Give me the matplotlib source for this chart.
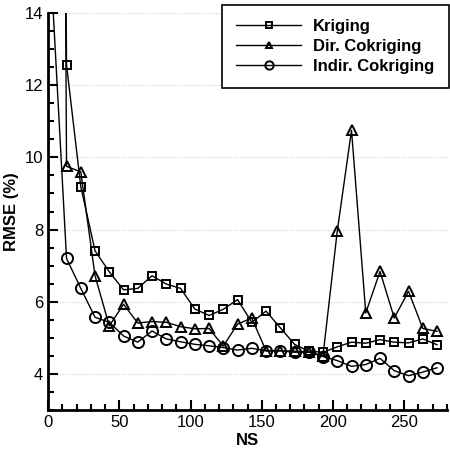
import matplotlib
matplotlib.use('Agg')
import matplotlib.pyplot as plt
from matplotlib.ticker import MultipleLocator

plt.rcParams['font.family'] = ['Liberation Sans', 'DejaVu Sans']

ns = [3, 13, 23, 33, 43, 53, 63, 73, 83, 93, 103, 113, 123, 133, 143,
      153, 163, 173, 183, 193, 203, 213, 223, 233, 243, 253, 263, 273]
kriging = [60.0, 12.56, 9.19, 7.41, 6.83, 6.33, 6.37, 6.72, 6.49, 6.37, 5.80, 5.62, 5.79, 6.06, 5.43,
           5.74, 5.28, 4.82, 4.63, 4.60, 4.75, 4.88, 4.85, 4.95, 4.88, 4.86, 4.97, 4.81]
dir_cok = [80.0, 9.75, 9.60, 6.72, 5.33, 5.93, 5.41, 5.45, 5.43, 5.31, 5.25, 5.26, 4.77, 5.38, 5.55,
           4.64, 4.64, 4.63, 4.60, 4.51, 7.96, 10.75, 5.69, 6.84, 5.55, 6.29, 5.26, 5.18]
indir_cok = [14.5, 7.20, 6.37, 5.57, 5.43, 5.05, 4.88, 5.19, 4.97, 4.89, 4.82, 4.78, 4.73, 4.66, 4.71,
             4.64, 4.64, 4.60, 4.61, 4.48, 4.37, 4.21, 4.26, 4.43, 4.09, 3.95, 4.05, 4.17]

fig = plt.figure(figsize=(4.5, 4.53), dpi=100)
ax = fig.add_axes([0.1067, 0.0949, 0.8866, 0.8764])

ax.plot(ns, kriging, 'k-', lw=1, marker='s', ms=5.5, mfc='none', mec='k', mew=1.4, label='Kriging')
ax.plot(ns, dir_cok, 'k-', lw=1, marker='^', ms=6.5, mfc='none', mec='k', mew=1.4, label='Dir. Cokriging')
ax.plot(ns, indir_cok, 'k-', lw=1, marker='o', ms=8, mfc='none', mec='k', mew=1.4, label='Indir. Cokriging')

ax.set_xlim(0, 280)
ax.set_ylim(3, 14)
ax.xaxis.set_major_locator(MultipleLocator(50))
ax.xaxis.set_minor_locator(MultipleLocator(10))
ax.yaxis.set_major_locator(MultipleLocator(2))
ax.yaxis.set_minor_locator(MultipleLocator(0.5))
ax.tick_params(which='both', direction='in', labelsize=12, width=1.5)
ax.tick_params(which='major', length=7)
ax.tick_params(which='minor', length=4)
ax.yaxis.grid(True, which='major', ls=':', color='#cccccc', lw=0.8)

ax.spines['top'].set_visible(False)
ax.spines['right'].set_visible(False)
ax.spines['left'].set_linewidth(2)
ax.spines['bottom'].set_linewidth(2)

ax.set_xlabel('NS', fontsize=12, fontweight='bold', labelpad=2)
ax.set_ylabel('RMSE (%)', fontsize=12, fontweight='bold', labelpad=4)

leg = ax.legend(loc='upper right', bbox_to_anchor=(1.004, 1.02), prop={'size': 12, 'weight': 'bold'},
                fancybox=False, edgecolor='k', framealpha=1, handlelength=3.9, markerscale=0.75,
                labelspacing=0.3, borderpad=0.85, handletextpad=0.7, borderaxespad=0)
leg.get_frame().set_linewidth(1.2)

plt.savefig('out.png', dpi=100)
print('Saved out.png')
